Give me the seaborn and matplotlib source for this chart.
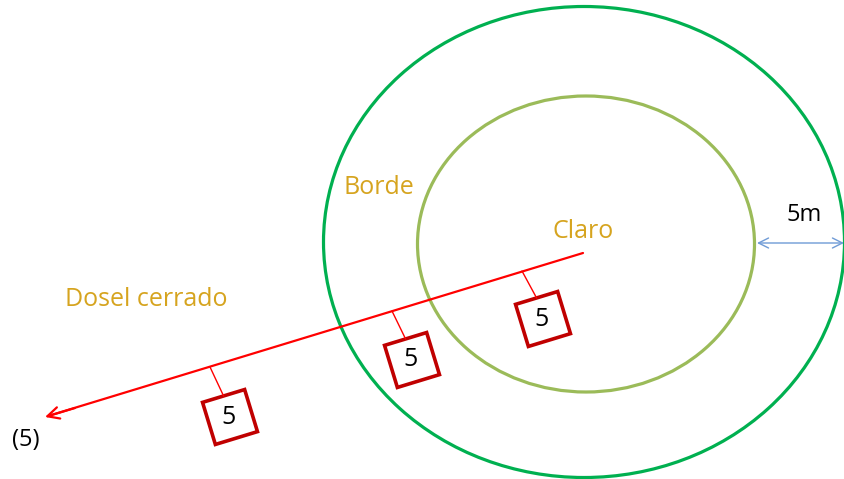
import numpy as np
import matplotlib
matplotlib.use("Agg")
import matplotlib.pyplot as plt
import pandas as pd
import seaborn as sns
from matplotlib.patches import Ellipse, Polygon

# --- diagram data (pixel space of the original figure, y grows downward) ---
zone_labels = ["Dosel cerrado", "Borde", "Claro"]
zone_label_xy = [(146, 300), (379, 188), (583, 231)]

ring_names = ["borde", "claro"]
ring_center = [(584, 242), (586, 244)]
ring_size = [(521, 471), (337, 296)]

transect_start = (583, 253)
transect_end = (45, 417)

plot_base = [(522, 271), (392, 311), (210, 367)]
plot_center = [(543, 319), (412, 360), (230, 417)]
plot_values = ["5", "5", "5"]

gap_label = "5m"
gap_from = (757, 243)
gap_to = (844, 243)
end_label = "(5)"

GOLD = "#d6a41f"


def setup_style():
    sns.set_theme(style="white")
    plt.rcParams['font.family'] = ['Open Sans', 'DejaVu Sans']


def square(center, side, angle):
    c = np.array(center, dtype=float)
    u = np.array([np.cos(angle), np.sin(angle)])
    v = np.array([-np.sin(angle), np.cos(angle)])
    h = side / 2
    return [c - h * u - h * v, c + h * u - h * v, c + h * u + h * v, c - h * u + h * v]


def main():
    setup_style()
    fig = plt.figure(figsize=(8.45, 4.79), dpi=100)
    ax = fig.add_axes([0, 0, 1, 1])
    ax.set_xlim(0, 845)
    ax.set_ylim(479, 0)
    ax.set_axis_off()

    # rings: outer (borde) and inner (claro)
    for (cx, cy), (w, h), col in zip(ring_center, ring_size, ["#00b050", "#9bbb59"]):
        ax.add_patch(Ellipse((cx, cy), w, h, fill=False, ec=col, lw=2.3))

    # transect line
    df = pd.DataFrame({"x": [transect_start[0], transect_end[0] + 3],
                       "y": [transect_start[1], transect_end[1] - 1]})
    sns.lineplot(data=df, x="x", y="y", ax=ax, color="#ff0000", lw=1.6,
                 sort=False, estimator=None)
    ax.annotate("", xy=transect_end, xytext=(transect_end[0] + 30, transect_end[1] - 9),
                arrowprops=dict(arrowstyle="->,head_length=0.7,head_width=0.35",
                                color="#ff0000", lw=1.6, shrinkA=0, shrinkB=0))

    angle = np.arctan2(transect_end[1] - transect_start[1], transect_end[0] - transect_start[0]) + np.pi
    side = 44
    for base, cen, val in zip(plot_base, plot_center, plot_values):
        pts = square(cen, side, angle)
        top_mid = (pts[0] + pts[1]) / 2
        ax.plot([base[0], top_mid[0]], [base[1], top_mid[1]], color="#ff0000", lw=1.0)
        ax.add_patch(Polygon(pts, closed=True, fill=True, fc="white", ec="#c00000", lw=2.6))
        ax.text(cen[0] - 1, cen[1], val, ha="center", va="center", fontsize=18, color="black")

    # zone labels
    for lab, (x, y) in zip(zone_labels, zone_label_xy):
        ax.text(x, y, lab, ha="center", va="center", fontsize=18, color=GOLD)

    # 5 m gap between rings
    ax.annotate("", xy=gap_to, xytext=gap_from, annotation_clip=False,
                arrowprops=dict(arrowstyle="<->,head_length=0.6,head_width=0.3",
                                color="#6f9bd6", lw=1.0, shrinkA=0, shrinkB=0))
    ax.text(804, 215, gap_label, ha="center", va="center", fontsize=17, color="black")
    ax.text(26, 440, end_label, ha="center", va="center", fontsize=17, color="black")

    fig.savefig("out.png", dpi=100)
    plt.close(fig)


if __name__ == "__main__":
    main()
